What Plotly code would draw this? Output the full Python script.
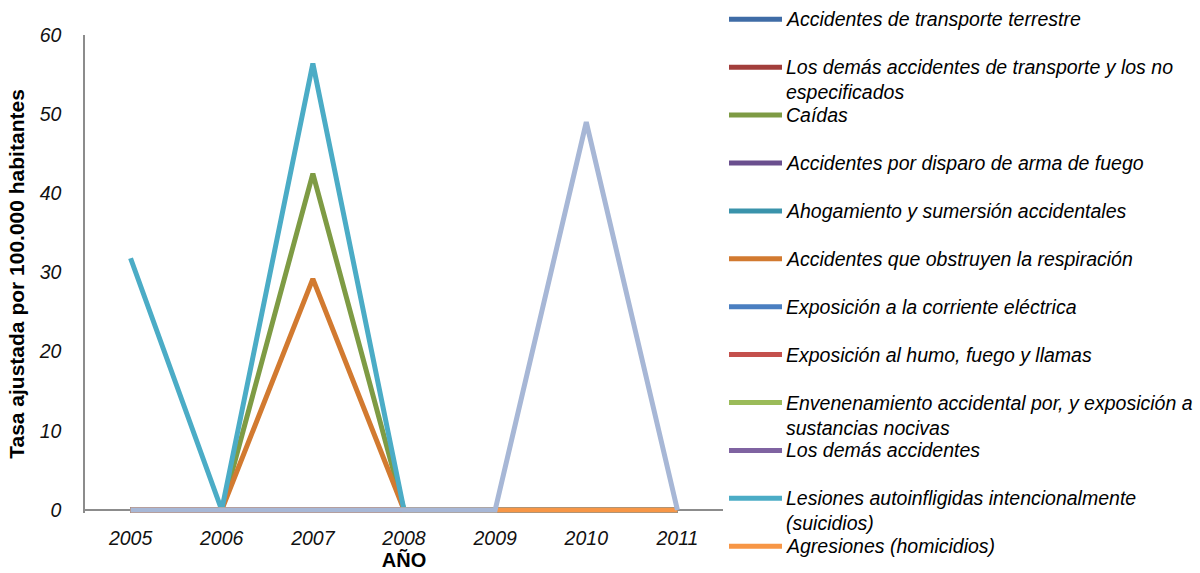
import plotly.graph_objects as go

years = ["2005", "2006", "2007", "2008", "2009", "2010", "2011"]

series_names = [
    "Accidentes de transporte terrestre",
    "Los demás accidentes de transporte y los no<br>especificados",
    "Caídas",
    "Accidentes por disparo de arma de fuego",
    "Ahogamiento y sumersión accidentales",
    "Accidentes que obstruyen la respiración",
    "Exposición a la corriente eléctrica",
    "Exposición al humo, fuego y llamas",
    "Envenenamiento accidental por, y exposición a<br>sustancias nocivas",
    "Los demás accidentes",
    "Lesiones autoinfligidas intencionalmente<br>(suicidios)",
    "Agresiones (homicidios)",
    "Eventos de intención no determinada",
]

transporte_terrestre = [0, 0, 0, 0, 0, 0, 0]
otros_transporte = [0, 0, 0, 0, 0, 0, 0]
caidas = [0, 0, 42.5, 0, 0, 0, 0]
disparo = [0, 0, 0, 0, 0, 0, 0]
ahogamiento = [0, 0, 0, 0, 0, 0, 0]
respiracion = [0, 0, 29.2, 0, 0, 0, 0]
corriente = [0, 0, 0, 0, 0, 0, 0]
humo = [0, 0, 0, 0, 0, 0, 0]
envenenamiento = [0, 0, 0, 0, 0, 0, 0]
demas_accidentes = [0, 0, 0, 0, 0, 0, 0]
suicidios = [31.8, 0, 56.4, 0, 0, 0, 0]
homicidios = [0, 0, 0, 0, 0, 0, 0]
no_determinada = [0, 0, 0, 0, 0, 49.0, 0]

series_values = [transporte_terrestre, otros_transporte, caidas, disparo, ahogamiento,
                 respiracion, corriente, humo, envenenamiento, demas_accidentes,
                 suicidios, homicidios, no_determinada]

colors = ["#3F6CA6", "#A23E3B", "#7E9B44", "#6A4F8E", "#3A93AB", "#D27A30",
          "#4A7FC1", "#C4504C", "#9BBB59", "#7F63A1", "#4BACC6", "#F79646", "#A7B7D6"]

legend_shown = 12

FONT = "Liberation Sans, Arial, sans-serif"

fig = go.Figure()
for name, vals, col in zip(series_names, series_values, colors):
    fig.add_trace(go.Scatter(x=years, y=vals, mode="lines", name=name,
                             line=dict(color=col, width=5), showlegend=False))

W, H = 1200, 573
L, R, T, B = 85, 477, 35, 60
pw, ph = W - L - R, H - T - B

def px2x(px):
    return (px - L) / pw

def px2y(py):
    return (H - B - py) / ph

shapes = []
annotations = []
for i in range(legend_shown):
    yc = 19.3 + i * 47.9
    shapes.append(dict(type="line", xref="paper", yref="paper",
                       x0=px2x(729), x1=px2x(782), y0=px2y(yc), y1=px2y(yc),
                       line=dict(color=colors[i], width=5)))
    annotations.append(dict(xref="paper", yref="paper", x=px2x(784), y=px2y(yc - 13),
                            xanchor="left", yanchor="top", align="left",
                            text=series_names[i], showarrow=False,
                            font=dict(family=FONT, size=19.5, color="#000000", style="italic")))

fig.update_layout(
    width=W, height=H,
    margin=dict(l=L, r=R, t=T, b=B, pad=0),
    paper_bgcolor="white", plot_bgcolor="white",
    font=dict(family=FONT, color="#000000"),
    shapes=shapes, annotations=annotations,
    xaxis=dict(type="category", range=[-0.5, 6.5], showgrid=False, zeroline=False,
               showline=False, ticks="", ticklabelstandoff=11, automargin=False,
               tickfont=dict(family=FONT, size=19.5, style="italic", color="#111111"),
               title=dict(text="<b>AÑO</b>", font=dict(family=FONT, size=20, color="#000000"), standoff=0)),
    yaxis=dict(range=[-0.38, 60], tickvals=[0, 10, 20, 30, 40, 50, 60], showgrid=False,
               zeroline=True, zerolinecolor="#8C8C8C", zerolinewidth=1.5,
               showline=True, linecolor="#8C8C8C", linewidth=1.5, ticks="",
               ticklabelstandoff=18, automargin=False,
               tickfont=dict(family=FONT, size=19.5, style="italic", color="#111111"),
               title=dict(text="<b>Tasa ajustada por 100.000 habitantes</b>",
                          font=dict(family=FONT, size=21, color="#000000"), standoff=8)),
)

fig.write_html("out.html", config={"displayModeBar": False},
               post_script="document.body.style.margin='0';document.body.style.overflow='hidden';")
